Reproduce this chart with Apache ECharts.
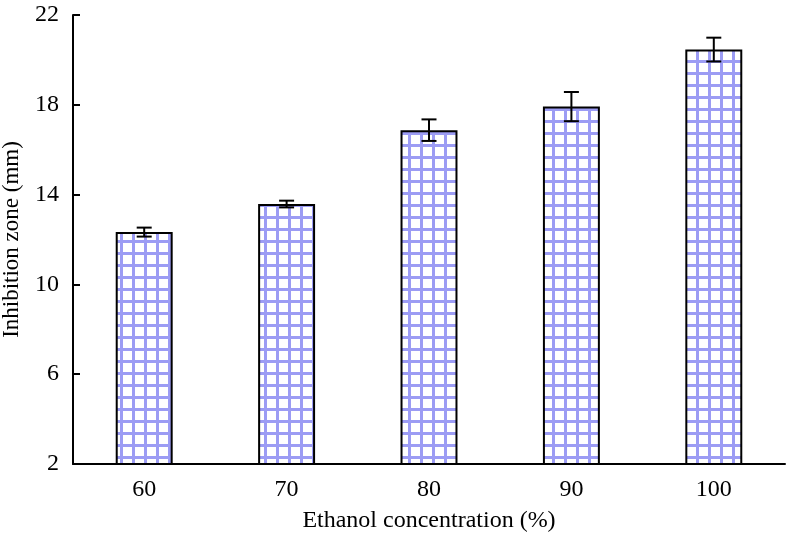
<!DOCTYPE html>
<html>
<head>
<meta charset="utf-8">
<script src="https://cdn.jsdelivr.net/npm/echarts@6/dist/echarts.min.js"></script>
<style>html,body{margin:0;padding:0;background:#fff;}#c{width:786px;height:543px;}</style>
</head>
<body>
<div id="c"></div>
<script>
const categories = ['60', '70', '80', '90', '100'];
const means = [12.33, 13.58, 16.87, 17.92, 20.46];
const errors = [0.2, 0.15, 0.48, 0.65, 0.53];
const yTicks = [2, 6, 10, 14, 18, 22];

const FONT = 'Liberation Serif';

// grid pattern fill
const pc = document.createElement('canvas');
pc.width = 12; pc.height = 12;
const pctx = pc.getContext('2d');
pctx.fillStyle = '#ffffff';
pctx.fillRect(0, 0, 12, 12);
pctx.fillStyle = '#9c9cf4';
pctx.fillRect(0, 0, 3, 12);
pctx.fillRect(0, 0, 12, 3);

const chart = echarts.init(document.getElementById('c'), null, {renderer: 'canvas'});
chart.setOption({
  animation: false,
  backgroundColor: '#ffffff',
  grid: {left: 73, right: 1, top: 15, bottom: 79, containLabel: false, outerBoundsMode: 'none'},
  xAxis: {
    type: 'category',
    data: categories,
    name: 'Ethanol concentration (%)',
    nameLocation: 'middle',
    nameGap: 45,
    nameTextStyle: {fontFamily: FONT, fontSize: 24, color: '#000'},
    axisLine: {lineStyle: {color: '#000', width: 2}},
    axisTick: {show: false},
    axisLabel: {fontFamily: FONT, fontSize: 24, color: '#000', margin: 14}
  },
  yAxis: {
    type: 'value',
    min: 2, max: 22, interval: 4,
    name: 'Inhibition zone (mm)',
    nameLocation: 'middle',
    nameGap: 50,
    nameTextStyle: {fontFamily: FONT, fontSize: 23, color: '#000'},
    axisLine: {show: true, lineStyle: {color: '#000', width: 2}},
    axisTick: {show: true, inside: true, length: 7, lineStyle: {color: '#000', width: 2}},
    splitLine: {show: false},
    axisLabel: {fontFamily: FONT, fontSize: 24, color: '#000', margin: 14}
  },
  series: [
    {
      type: 'bar',
      data: means,
      barWidth: '40%',
      itemStyle: {
        color: {image: pc, repeat: 'repeat'},
        borderColor: '#000',
        borderWidth: 2
      }
    },
    {
      type: 'custom',
      data: means.map((m, i) => [i, m - errors[i], m + errors[i]]),
      renderItem: function (params, api) {
        const lo = api.coord([api.value(0), api.value(1)]);
        const hi = api.coord([api.value(0), api.value(2)]);
        const hw = 7.5;
        const st = {stroke: '#000', lineWidth: 2};
        return {
          type: 'group',
          children: [
            {type: 'line', shape: {x1: lo[0], y1: lo[1], x2: hi[0], y2: hi[1]}, style: st},
            {type: 'line', shape: {x1: lo[0] - hw, y1: lo[1], x2: lo[0] + hw, y2: lo[1]}, style: st},
            {type: 'line', shape: {x1: hi[0] - hw, y1: hi[1], x2: hi[0] + hw, y2: hi[1]}, style: st}
          ]
        };
      },
      z: 10
    }
  ]
});
</script>
</body>
</html>
